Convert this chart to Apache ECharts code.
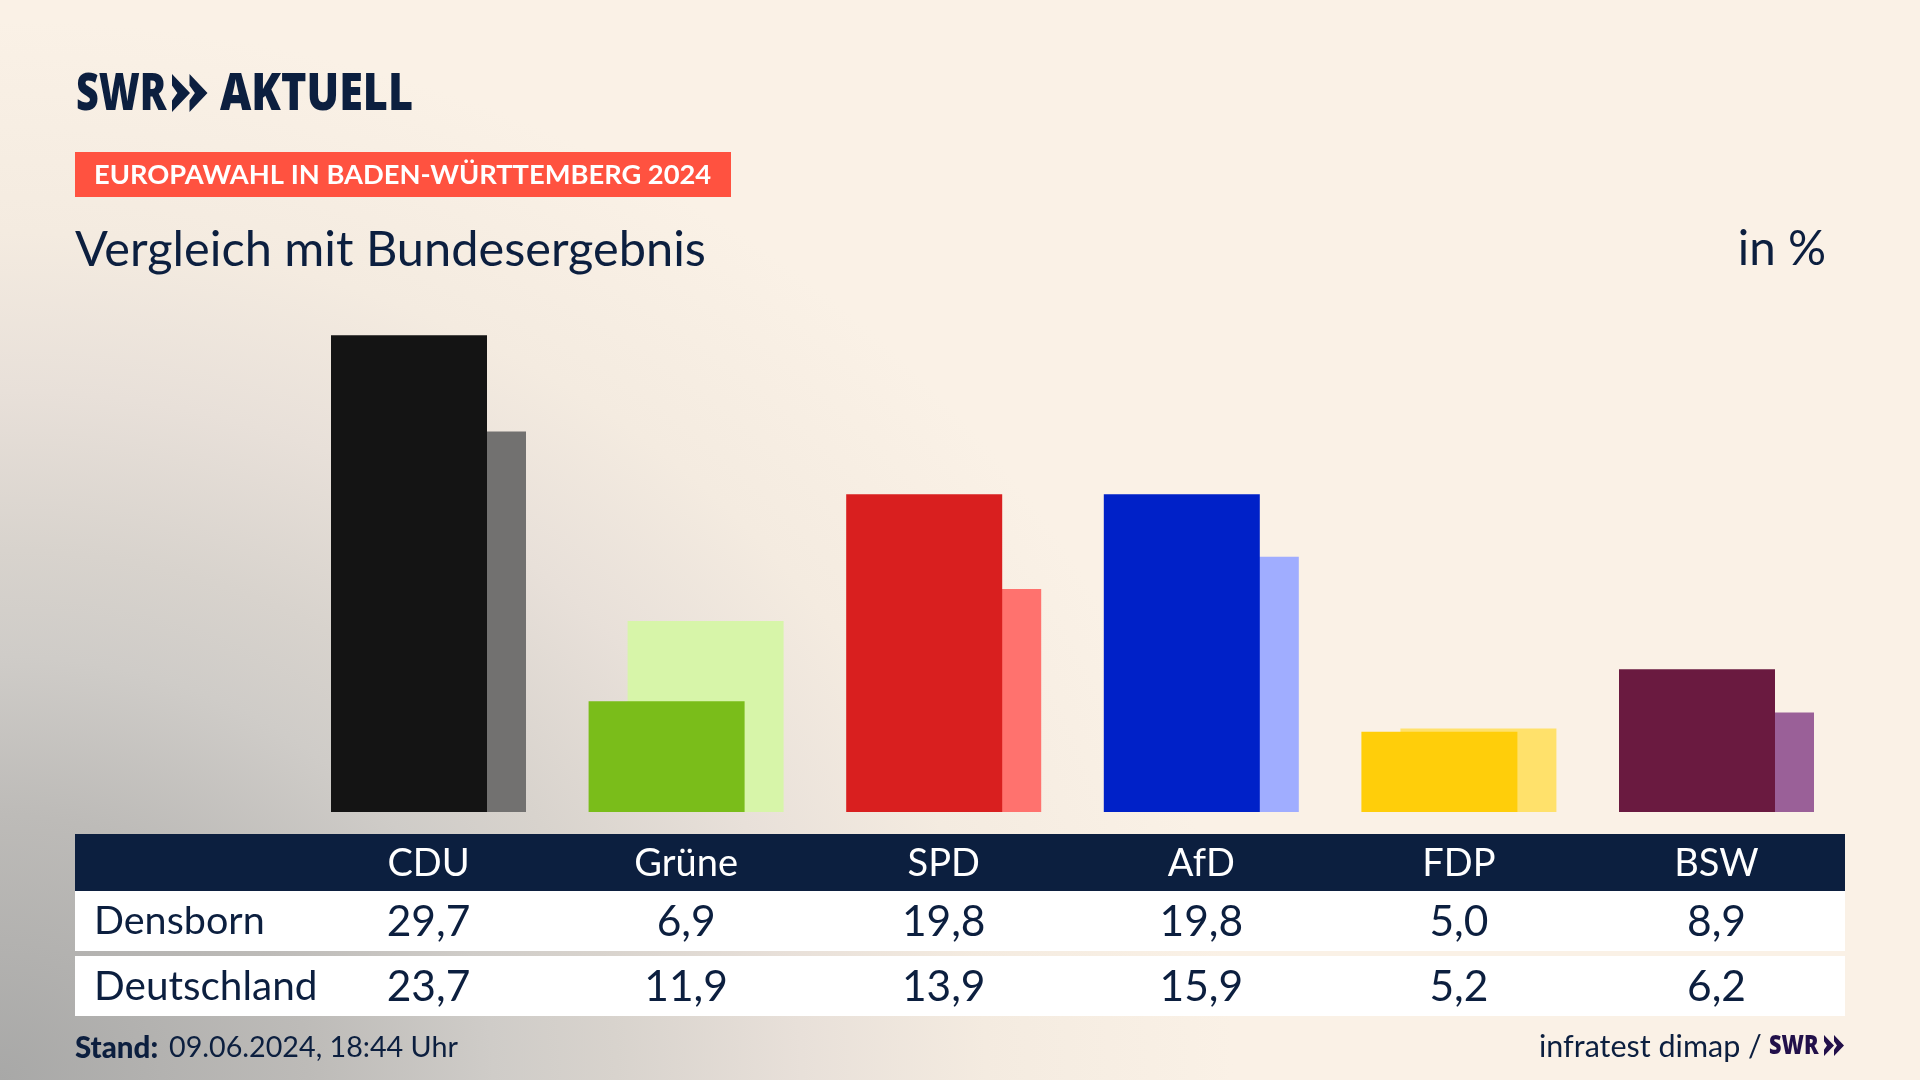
<!DOCTYPE html>
<html>
<head>
<meta charset="utf-8">
<title>Europawahl 2024</title>
<script src="https://cdn.jsdelivr.net/npm/echarts@6/dist/echarts.min.js"></script>
<style>
    html, body { margin: 0; padding: 0; width: 1920px; height: 1080px; overflow: hidden; }
    body {
        background-color: #faf1e6;
        background-image:
            radial-gradient(ellipse 1233px 1060px at 0px 1080px, #a8a8a7 0%, #bdbbb8 25%, #cfccc8 40%, #d8d3cd 50%, #e8e0d9 65%, #f4ebe0 80%, #faf1e6 100%);
    }
    #main-chart { width: 1920px; height: 1080px; }
</style>
</head>
<body>
<div id="main-chart"></div>
<script>
const parties = ['CDU', 'Grüne', 'SPD', 'AfD', 'FDP', 'BSW'];
const densborn = [29.7, 6.9, 19.8, 19.8, 5.0, 8.9];
const deutschland = [23.7, 11.9, 13.9, 15.9, 5.2, 6.2];
const strongColors = ['#141414', '#7abd1a', '#d91f1f', '#0021c8', '#ffce0a', '#6a1a40'];
const lightColors = ['#727170', '#d7f5a9', '#ff726e', '#a0adff', '#ffe16b', '#9a6098'];
const navy = '#0c1f3f';
const font = 'Lato';
const logoFont = 'Open Sans';

const fmt = v => v.toFixed(1).replace('.', ',');

// helper axis: only its labels are used, one row of the table
const tableAxis = (data, margin, size, color) => ({
    type: 'category',
    position: 'bottom',
    data: data,
    gridIndex: 0,
    z: 3,
    axisLine: { show: false },
    axisTick: { show: false },
    axisLabel: {
        interval: 0,
        margin: margin,
        verticalAlign: 'middle',
        fontFamily: font,
        fontSize: size,
        color: color
    }
});

const chevrons = (x, top, w, h, gap, color) => [0, 1].map(i => ({
    type: 'polygon',
    z: 5,
    shape: {
        points: [
            [x + i * gap, top],
            [x + i * gap + w, top + h / 2],
            [x + i * gap, top + h],
            [x + i * gap, top + h * 0.7],
            [x + i * gap + w * 0.3, top + h / 2],
            [x + i * gap, top + h * 0.3]
        ]
    },
    style: { fill: color }
}));

const label = (x, y, text, size, opts, scaleX) => ({
    type: 'text',
    x: x,
    y: y,
    z: 5,
    scaleX: scaleX || 1,
    style: Object.assign({
        text: text,
        fontFamily: font,
        fontSize: size,
        fill: navy,
        textVerticalAlign: 'middle'
    }, opts)
});

const band = (y, h, color) => ({
    type: 'rect',
    z: 1,
    shape: { x: 75, y: y, width: 1770, height: h },
    style: { fill: color }
});

const chartDom = document.getElementById('main-chart');
const myChart = echarts.init(chartDom, null, { renderer: 'canvas' });

myChart.setOption({
    animation: false,
    backgroundColor: 'transparent',
    grid: { left: 299.7, width: 1545.6, top: 330.5, height: 481.5 },
    xAxis: [
        tableAxis(parties, 52, 38, '#ffffff'),
        tableAxis(densborn.map(fmt), 110, 42.5, navy),
        tableAxis(deutschland.map(fmt), 175, 42.5, navy)
    ],
    yAxis: { type: 'value', min: 0, max: 30, show: false },
    series: [
        {
            name: 'Densborn',
            type: 'bar',
            z: 3,
            silent: true,
            barWidth: 156,
            barGap: '-75%',
            data: densborn.map((v, i) => ({ value: v, itemStyle: { color: strongColors[i] } }))
        },
        {
            name: 'Deutschland',
            type: 'bar',
            z: 2,
            silent: true,
            barWidth: 156,
            barGap: '-75%',
            data: deutschland.map((v, i) => ({ value: v, itemStyle: { color: lightColors[i] } }))
        }
    ],
    graphic: [
        band(834, 57, navy),
        band(891, 60, '#ffffff'),
        band(956, 60, '#ffffff'),
        { type: 'rect', z: 1, shape: { x: 75, y: 152, width: 656, height: 45 }, style: { fill: '#ff5240' } },

        label(76, 95, 'SWR', 52, { fontWeight: 800, fontFamily: logoFont }, 0.76),
        ...chevrons(172, 74, 18, 38, 17.5, navy),
        label(220, 95, 'AKTUELL', 52, { fontWeight: 800, fontFamily: logoFont }, 0.83),

        label(94, 175, 'EUROPAWAHL IN BADEN-WÜRTTEMBERG 2024', 27.3, { fill: '#ffffff', fontWeight: 'bold' }),
        label(75, 250, 'Vergleich mit Bundesergebnis', 48.7, {}),
        label(1826, 250, 'in %', 47.5, { textAlign: 'right' }),

        label(94, 921, 'Densborn', 39.5, {}),
        label(94, 987, 'Deutschland', 40.5, {}),

        label(75, 1048, 'Stand:', 29.5, { fontWeight: 900 }),
        label(169, 1048, '09.06.2024, 18:44 Uhr', 28.7, {}),

        label(1539, 1047, 'infratest dimap /', 30.5, {}),
        label(1769, 1046, 'SWR', 27, { fontWeight: 800, fontFamily: logoFont, fill: '#22104a' }, 0.8),
        ...chevrons(1824, 1035, 10, 21, 10, '#22104a')
    ]
});
</script>
</body>
</html>
